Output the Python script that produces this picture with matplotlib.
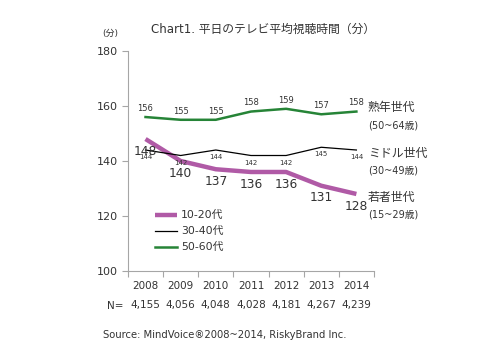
import matplotlib.pyplot as plt
import numpy as np

plt.rcParams['font.family'] = ['DejaVu Sans', 'Noto Sans CJK JP']

years = ['2008', '2009', '2010', '2011', '2012', '2013', '2014']
n_values = ['4,155', '4,056', '4,048', '4,028', '4,181', '4,267', '4,239']
young = [148, 140, 137, 136, 136, 131, 128]
middle = [144, 142, 144, 142, 142, 145, 144]
senior = [156, 155, 155, 158, 159, 157, 158]

purple = '#b05aa6'
green = '#268437'
grey = '#a6a6a6'
txt = '#333333'

fig = plt.figure(figsize=(4.94, 3.5), dpi=100)
ax = fig.add_axes([0.259, 0.226, 0.498, 0.628])

x = np.arange(len(years))
ax.plot(x, young, color=purple, lw=3.2, label='10-20代', solid_capstyle='butt')
ax.plot(x, middle, color='black', lw=0.9, label='30-40代')
ax.plot(x, senior, color=green, lw=1.8, label='50-60代')

# 値ラベル
for i in x:
    ax.annotate(str(young[i]), (i, young[i]), xytext=(0, -4), textcoords='offset points',
                ha='center', va='top', fontsize=8.8, color=txt)
    ax.annotate(str(middle[i]), (i, middle[i]), xytext=(0, -3), textcoords='offset points',
                ha='center', va='top', fontsize=5, color=txt)
    ax.annotate(str(senior[i]), (i, senior[i]), xytext=(0, 3), textcoords='offset points',
                ha='center', va='bottom', fontsize=6, color=txt)

ax.set_xlim(-0.5, len(years) - 0.5)
ax.set_ylim(100, 180)
ax.set_yticks([100, 120, 140, 160, 180])
ax.tick_params(axis='y', labelsize=8, colors=grey, labelcolor=txt, length=4, width=0.8)
ax.set_xticks(np.arange(len(years) + 1) - 0.5)
ax.set_xticklabels([])
ax.tick_params(axis='x', colors=grey, length=4, width=0.8)
for s in ['top', 'right']:
    ax.spines[s].set_visible(False)
for s in ['left', 'bottom']:
    ax.spines[s].set_color(grey)
    ax.spines[s].set_linewidth(0.8)

# 年とN
for i, (yr, n) in enumerate(zip(years, n_values)):
    ax.text(i, -0.07, yr, transform=ax.get_xaxis_transform(), ha='center', va='center',
            fontsize=7.5, color=txt)
    ax.text(i, -0.155, n, transform=ax.get_xaxis_transform(), ha='center', va='center',
            fontsize=7.5, color=txt)
fig.text(115 / 494, 1 - 306 / 350, 'N=', ha='center', va='center', fontsize=7.5, color=txt)

ax.legend(loc='lower left', bbox_to_anchor=(0.07, 0.04), frameon=False, fontsize=7.8,
          handlelength=2.0, handletextpad=0.4, labelspacing=0.55, labelcolor=txt)

# 右側の世代ラベル
gx = 0.975
ax.text(gx, 159.3, '熟年世代', transform=ax.get_yaxis_transform(), fontsize=8.6,
        ha='left', va='center', color=txt)
ax.text(gx, 153.1, '(50~64歳)', transform=ax.get_yaxis_transform(), fontsize=7,
        ha='left', va='center', color=txt)
ax.text(gx, 142.9, 'ミドル世代', transform=ax.get_yaxis_transform(), fontsize=8.6,
        ha='left', va='center', color=txt)
ax.text(gx, 136.7, '(30~49歳)', transform=ax.get_yaxis_transform(), fontsize=7,
        ha='left', va='center', color=txt)
ax.text(gx, 126.9, '若者世代', transform=ax.get_yaxis_transform(), fontsize=8.6,
        ha='left', va='center', color=txt)
ax.text(gx, 120.4, '(15~29歳)', transform=ax.get_yaxis_transform(), fontsize=7,
        ha='left', va='center', color=txt)

fig.text(263 / 494, 1 - 29 / 350, 'Chart1. 平日のテレビ平均視聴時間（分）', ha='center',
         va='center', fontsize=8.5, color=txt)
fig.text(110 / 494, 1 - 33 / 350, '(分)', ha='center', va='center', fontsize=6.5, color=txt)
fig.text(103 / 494, 1 - 335 / 350, 'Source: MindVoice®2008~2014, RiskyBrand Inc.',
         ha='left', va='center', fontsize=7.2, color=txt)

fig.savefig('out.png', dpi=100)
